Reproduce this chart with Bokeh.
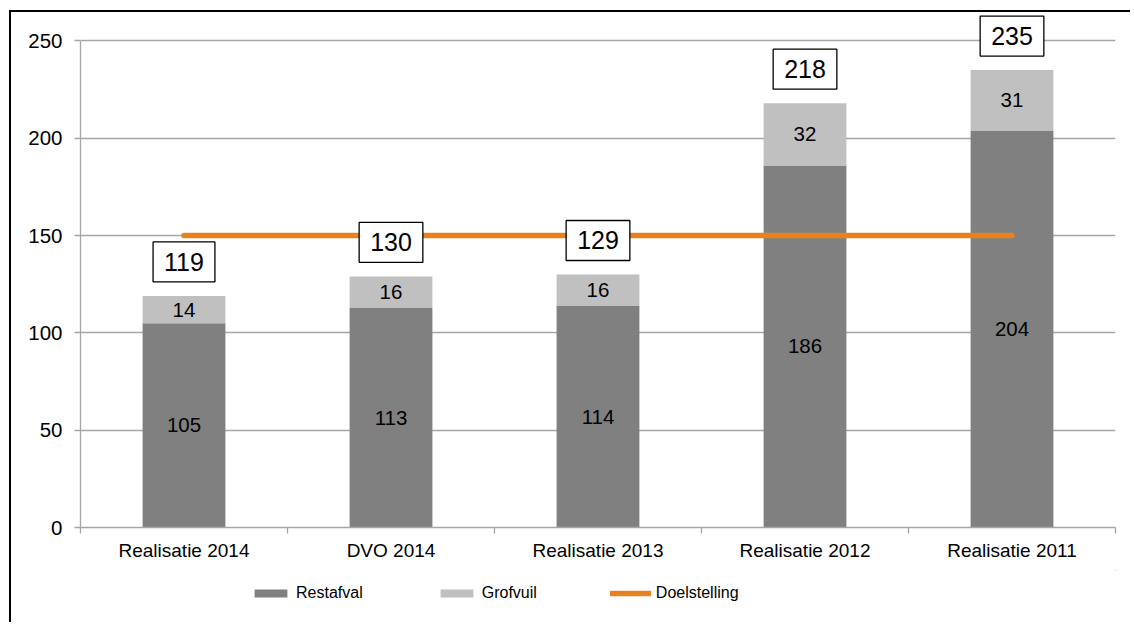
from bokeh.plotting import figure
from bokeh.layouts import column
from bokeh.models import (ColumnDataSource, Range1d, FixedTicker, Legend, LegendItem)
from bokeh.core.properties import value
from bokeh.embed import file_html
from bokeh.resources import INLINE

categories = ["Realisatie 2014", "DVO 2014", "Realisatie 2013", "Realisatie 2012", "Realisatie 2011"]
restafval = [105, 113, 114, 186, 204]
grofvuil = [14, 16, 16, 32, 31]
total_labels = ["119", "130", "129", "218", "235"]
doelstelling = [150, 150, 150, 150, 150]
y_ticks = [0, 50, 100, 150, 200, 250]

FONT = "Liberation Sans"
DARK = "#808080"
LIGHT = "#C0C0C0"
ORANGE = "#E8821E"
GRID = "#A6A6A6"

n = len(categories)
xpos = [i + 0.5 for i in range(n)]          # category centres on the x scale
totals = [r + g for r, g in zip(restafval, grofvuil)]
src = ColumnDataSource(dict(
    x=xpos,
    cat=categories,
    Restafval=restafval,
    Grofvuil=grofvuil,
    rest_lbl=[str(v) for v in restafval],
    grof_lbl=[str(v) for v in grofvuil],
    rest_mid=[r / 2 for r in restafval],
    grof_mid=[r + g / 2 for r, g in zip(restafval, grofvuil)],
    total=totals,
    total_lbl=total_labels,
    goal=doelstelling,
))

# the frame reaches a little above 250 so that the boxed totals are not clipped
p = figure(x_range=Range1d(0, n), y_range=Range1d(0, 264.6),
           width=1121, height=560,
           output_backend="svg", toolbar_location=None,
           min_border_left=69, min_border_right=17, min_border_top=0, min_border_bottom=45)
p.margin = (10, 0, 0, 9)
p.styles = {"border-left": "2px solid black", "border-top": "2px solid black"}
p.outline_line_color = None
p.background_fill_color = "white"
p.border_fill_color = "white"

xa = p.xaxis[0]
xa.ticker = FixedTicker(ticks=xpos, minor_ticks=list(range(n + 1)))
xa.major_label_overrides = {x: c for x, c in zip(xpos, categories)}
xa.axis_line_color = GRID
xa.axis_line_width = 1.3
xa.major_tick_line_color = None
xa.major_tick_out = 0
xa.major_tick_in = 0
xa.minor_tick_line_color = GRID
xa.minor_tick_line_width = 1.3
xa.minor_tick_out = 6
xa.minor_tick_in = 0
xa.major_label_standoff = 6
xa.major_label_text_font = FONT
xa.major_label_text_font_size = "19px"
xa.major_label_text_color = "black"

ya = p.yaxis[0]
ya.ticker = FixedTicker(ticks=y_ticks)
ya.bounds = (y_ticks[0], y_ticks[-1])
ya.axis_line_color = GRID
ya.axis_line_width = 1.3
ya.major_tick_line_color = GRID
ya.major_tick_line_width = 1.3
ya.major_tick_out = 6
ya.major_tick_in = 0
ya.minor_tick_line_color = None
ya.major_label_standoff = 12
ya.major_label_text_font = FONT
ya.major_label_text_font_size = "20.5px"
ya.major_label_text_color = "black"

p.xgrid.grid_line_color = None
p.ygrid.ticker = FixedTicker(ticks=y_ticks)
p.ygrid.grid_line_color = GRID
p.ygrid.grid_line_width = 1.3

bars = p.vbar_stack(["Restafval", "Grofvuil"], x="x", width=0.4, color=[DARK, LIGHT],
                    line_color=None, source=src)

goal = p.line(x="x", y="goal", source=src, line_color=ORANGE, line_width=5.5, line_cap="round")

p.text(x="x", y="rest_mid", text="rest_lbl", source=src, text_align="center",
       text_baseline="middle", text_font=value(FONT), text_font_size="20.5px", text_color="black")
p.text(x="x", y="grof_mid", text="grof_lbl", source=src, text_align="center",
       text_baseline="middle", text_font=value(FONT), text_font_size="20.5px", text_color="black")
p.text(x="x", y="total", text="total_lbl", source=src, text_align="center",
       text_baseline="middle", y_offset=-34, text_font=value(FONT), text_font_size="25px",
       text_color="black", background_fill_color="white", border_line_color="black",
       border_line_width=1.3, padding=11)

# legend strip below the chart (its proxy glyphs lie far outside its visible range)
lp = figure(x_range=Range1d(-100, -99), y_range=Range1d(-100, -99), width=1121, height=52,
            x_axis_location=None, y_axis_location=None,
            output_backend="svg", toolbar_location=None,
            min_border_left=0, min_border_right=0, min_border_top=0, min_border_bottom=0)
lp.margin = (0, 0, 0, 9)
lp.styles = {"border-left": "2px solid black"}
lp.outline_line_color = None
lp.xgrid.visible = False
lp.ygrid.visible = False
lbars = lp.vbar_stack(["Restafval", "Grofvuil"], x="x", width=0.4, color=[DARK, LIGHT],
                      line_color=None, source=src)
lgoal = lp.line(x="x", y="goal", source=src, line_color=ORANGE, line_width=5.5, line_cap="round")

legend = Legend(items=[LegendItem(label="Restafval", renderers=[lbars[0]]),
                       LegendItem(label="Grofvuil", renderers=[lbars[1]]),
                       LegendItem(label="Doelstelling", renderers=[lgoal])],
                orientation="horizontal", location=(170, 20),
                glyph_width=41, glyph_height=10, label_standoff=5, spacing=73,
                padding=0, margin=0, border_line_color=None, background_fill_alpha=0,
                label_text_font=FONT, label_text_font_size="16px", label_text_color="black",
                label_text_baseline="middle")
lp.add_layout(legend, "center")

layout = column(p, lp, spacing=0)
open("out.html", "w").write(file_html(layout, INLINE))
